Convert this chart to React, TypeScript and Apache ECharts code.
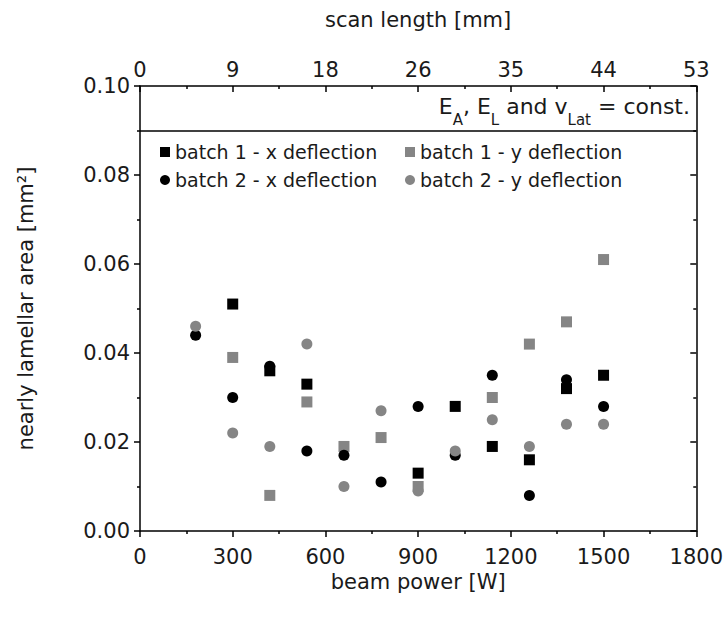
import React, { useEffect, useRef } from "react";
import * as echarts from "echarts";

const powers = [180, 300, 420, 540, 660, 780, 900, 1020, 1140, 1260, 1380, 1500];
const batch1X = [null, 0.051, 0.036, 0.033, null, null, 0.013, 0.028, 0.019, 0.016, 0.032, 0.035];
const batch1Y = [null, 0.039, 0.008, 0.029, 0.019, 0.021, 0.010, null, 0.030, 0.042, 0.047, 0.061];
const batch2X = [0.044, 0.030, 0.037, 0.018, 0.017, 0.011, 0.028, 0.017, 0.035, 0.008, 0.034, 0.028];
const batch2Y = [0.046, 0.022, 0.019, 0.042, 0.010, 0.027, 0.009, 0.018, 0.025, 0.019, 0.024, 0.024];
const scanLengthLabels = ["0", "9", "18", "26", "35", "44", "53"];

const FONT = "DejaVu Sans";
const BLACK = "#000000";
const GRAY = "#858585";

function pairs(vals: (number | null)[]) {
  const out: number[][] = [];
  vals.forEach((v, i) => {
    if (v !== null) out.push([powers[i], v]);
  });
  return out;
}

export default function App() {
  const ref = useRef<HTMLDivElement>(null);
  useEffect(() => {
    if (!ref.current) return;
    const chart = echarts.init(ref.current, null, { renderer: "svg" });
    const axisLine = { show: true, onZero: false, lineStyle: { color: BLACK, width: 1.5 } };
    const label = { color: "#1a1a1a", fontFamily: FONT, fontSize: 21 };
    const legendText = { fontFamily: FONT, fontSize: 19, color: "#1a1a1a", lineHeight: 20, padding: [0, 0, 0, 0] };
    chart.setOption({
      animation: false,
      backgroundColor: "#ffffff",
      grid: { left: 140, right: 29, top: 86, bottom: 86 },
      legend: [
        {
          data: [
            { name: "batch 1 - x deflection", icon: "rect" },
            { name: "batch 2 - x deflection", icon: "circle" },
          ],
          orient: "vertical",
          left: 155,
          top: 137,
          itemWidth: 10,
          itemHeight: 10,
          itemGap: 8,
          textStyle: legendText,
        },
        {
          data: [
            { name: "batch 1 - y deflection", icon: "rect" },
            { name: "batch 2 - y deflection", icon: "circle" },
          ],
          orient: "vertical",
          left: 400,
          top: 137,
          itemWidth: 10,
          itemHeight: 10,
          itemGap: 8,
          textStyle: legendText,
        },
      ],
      xAxis: [
        {
          type: "value",
          position: "bottom",
          min: 0,
          max: 1800,
          interval: 300,
          name: "beam power [W]",
          nameLocation: "middle",
          nameGap: 36,
          nameTextStyle: label,
          axisLine,
          axisTick: { show: true, inside: false, length: 6, lineStyle: { color: BLACK, width: 1.5 } },
          minorTick: { show: true, splitNumber: 2, length: 3, lineStyle: { color: BLACK, width: 1.5 } },
          axisLabel: { ...label, margin: 15, formatter: (v: number) => String(v) },
          splitLine: { show: false },
        },
        {
          type: "value",
          position: "top",
          min: 0,
          max: 1800,
          interval: 300,
          name: "scan length [mm]",
          nameLocation: "middle",
          nameGap: 56,
          nameTextStyle: label,
          axisLine,
          axisTick: { show: true, inside: true, length: 6, lineStyle: { color: BLACK, width: 1.5 } },
          minorTick: { show: true, splitNumber: 2, length: 3, lineStyle: { color: BLACK, width: 1.5 } },
          axisLabel: {
            ...label,
            margin: 6,
            formatter: (v: number) => scanLengthLabels[Math.round(v / 300)] ?? "",
          },
          splitLine: { show: false },
        },
      ],
      yAxis: [
        {
          type: "value",
          position: "left",
          min: 0,
          max: 0.1,
          interval: 0.02,
          name: "nearly lamellar area [mm²]",
          nameLocation: "middle",
          nameRotate: 90,
          nameGap: 104,
          nameTextStyle: label,
          axisLine,
          axisTick: { show: true, inside: false, length: 6, lineStyle: { color: BLACK, width: 1.5 } },
          minorTick: { show: true, splitNumber: 2, length: 3, lineStyle: { color: BLACK, width: 1.5 } },
          axisLabel: { ...label, margin: 10, formatter: (v: number) => v.toFixed(2) },
          splitLine: { show: false },
        },
        {
          type: "value",
          position: "right",
          min: 0,
          max: 0.1,
          interval: 0.02,
          axisLine,
          axisTick: { show: true, inside: true, length: 6, lineStyle: { color: BLACK, width: 1.5 } },
          minorTick: { show: true, splitNumber: 2, length: 3, lineStyle: { color: BLACK, width: 1.5 } },
          axisLabel: { show: false },
          splitLine: { show: false },
        },
      ],
      graphic: [
        {
          type: "text",
          right: 36,
          top: 95,
          style: {
            text: "{n|E}{s|A}{n|, E}{s|L}{n| and v}{s|Lat}{n| = const.}",
            fill: "#1a1a1a",
            rich: {
              n: { fontFamily: FONT, fontSize: 22, lineHeight: 32, verticalAlign: "top", fill: "#1a1a1a" },
              s: { fontFamily: FONT, fontSize: 15, lineHeight: 15, verticalAlign: "bottom", fill: "#1a1a1a" },
            },
          },
        },
      ],
      series: [
        {
          name: "batch 1 - x deflection",
          type: "scatter",
          symbol: "rect",
          symbolSize: 11,
          itemStyle: { color: BLACK, opacity: 1 },
          data: pairs(batch1X),
          markLine: {
            silent: true,
            symbol: "none",
            label: { show: false },
            lineStyle: { color: BLACK, width: 1.5, type: "solid", opacity: 1 },
            data: [{ yAxis: 0.09 }],
          },
        },
        {
          name: "batch 1 - y deflection",
          type: "scatter",
          symbol: "rect",
          symbolSize: 11,
          itemStyle: { color: GRAY, opacity: 1 },
          data: pairs(batch1Y),
        },
        {
          name: "batch 2 - x deflection",
          type: "scatter",
          symbol: "circle",
          symbolSize: 11,
          itemStyle: { color: BLACK, opacity: 1 },
          data: pairs(batch2X),
        },
        {
          name: "batch 2 - y deflection",
          type: "scatter",
          symbol: "circle",
          symbolSize: 11,
          itemStyle: { color: GRAY, opacity: 1 },
          data: pairs(batch2Y),
        },
      ],
    });
    return () => chart.dispose();
  }, []);
  return <div ref={ref} style={{ position: "fixed", left: 0, top: 0, width: 726, height: 617 }} />;
}
